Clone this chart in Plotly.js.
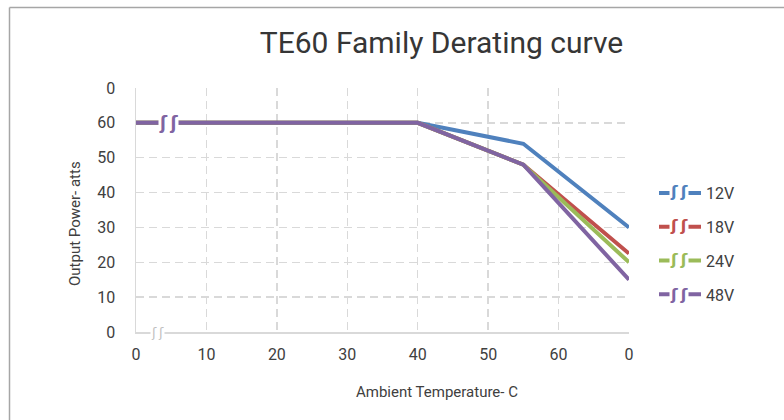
<!DOCTYPE html>
<html><head><meta charset="utf-8">
<script src="https://cdn.plot.ly/plotly-3.0.1.min.js"></script>
<style>html,body{margin:0;padding:0;background:#fff}#chart{width:784px;height:420px}</style>
</head><body><div id="chart"></div>
<script>
// ---- data ----
const temperature = [0, 40, 55, 70];
const seriesNames = ['12V', '18V', '24V', '48V'];
const power12V = [60, 60, 54, 30];
const power18V = [60, 60, 48, 22.5];
const power24V = [60, 60, 48, 20];
const power48V = [60, 60, 48, 15];
const xTickValues = [0, 10, 20, 30, 40, 50, 60, 70];
const xTickLabels = ['0', '10', '20', '30', '40', '50', '60', '0'];
const yTickValues = [0, 10, 20, 30, 40, 50, 60, 70];
const yTickLabels = ['0', '10', '20', '30', '40', '50', '60', '0'];

// ---- styling ----
const colors = ['#4F81BD', '#C0504D', '#9BBB59', '#8064A2'];
const W = 784, H = 420;
const M = {l: 136, r: 155, t: 88, b: 88};
const PW = W - M.l - M.r, PH = H - M.t - M.b;
const px2x = p => (p - M.l) / PW;          // pixel -> paper x
const px2y = p => (H - M.b - p) / PH;      // pixel -> paper y
const txt = '#404040';
const grid = '#d9d9d9';

const series = [power12V, power18V, power24V, power48V];
const traces = series.map((y, i) => ({
  type: 'scatter', mode: 'lines', x: temperature, y: y,
  name: seriesNames[i], legendgroup: 'g' + i,
  line: {color: colors[i], width: 4},
  hoverinfo: 'skip'
}));

const BREAK = 'ʃ\u2009ʃ';
const breakFont = (c, s) => ({family: 'DejaVu Sans', size: s, color: c, weight: 'bold'});
const annotations = [
  {xref: 'paper', yref: 'paper', x: px2x(437), y: px2y(392), text: 'Ambient Temperature- C',
   showarrow: false, font: {size: 15, color: txt}, xanchor: 'center', yanchor: 'middle'},
  {xref: 'paper', yref: 'paper', x: px2x(75), y: px2y(224), text: 'Output Power- atts', textangle: -90,
   showarrow: false, font: {size: 15, color: txt}, xanchor: 'center', yanchor: 'middle'},
  // axis break & line break marks
  {xref: 'x', yref: 'y', x: 3, y: 0, text: BREAK, showarrow: false, bgcolor: '#ffffff', borderpad: 0,
   xanchor: 'center', yanchor: 'middle',
   font: {family: 'DejaVu Sans', size: 13, color: '#bfbfbf'}},
  {xref: 'x', yref: 'y', x: 4.6, y: 60, text: BREAK, showarrow: false, bgcolor: '#ffffff', borderpad: 0,
   xanchor: 'center', yanchor: 'middle', font: breakFont(colors[3], 17)}
];
const legendRows = [191, 225.5, 259.5, 294];
legendRows.forEach((py, i) => annotations.push({
  xref: 'paper', yref: 'paper', x: px2x(679), y: px2y(py), text: BREAK, showarrow: false,
  xanchor: 'center', yanchor: 'middle',
  bgcolor: '#ffffff', borderpad: 0, font: breakFont(colors[i], 16)
}));

const layout = {
  width: W, height: H, margin: M,
  paper_bgcolor: '#ffffff', plot_bgcolor: '#ffffff',
  font: {family: 'Roboto, sans-serif', color: txt, size: 16},
  title: {text: 'TE60 Family Derating curve', font: {size: 30, color: '#363636'},
          xref: 'container', x: 441.5 / W, xanchor: 'center', yref: 'container', y: 1 - 42 / H, yanchor: 'middle'},
  xaxis: {range: [0, 70], tickmode: 'array', tickvals: xTickValues, ticktext: xTickLabels,
          showgrid: true, gridcolor: grid, gridwidth: 1.5, griddash: '8px,5px',
          showline: true, linecolor: grid, linewidth: 1.5, zeroline: false, ticks: '',
          ticklabelstandoff: 7, tickfont: {size: 16, color: txt}, fixedrange: true},
  yaxis: {range: [0, 70], tickmode: 'array', tickvals: yTickValues, ticktext: yTickLabels,
          showgrid: true, gridcolor: grid, gridwidth: 1.5, griddash: '8px,5px',
          showline: true, linecolor: grid, linewidth: 1.5, zeroline: false, ticks: '',
          ticklabelstandoff: 16, tickfont: {size: 16, color: txt}, fixedrange: true},
  showlegend: true,
  legend: {xref: 'container', yref: 'container', x: 654 / W, y: 1 - 176 / H, xanchor: 'left', yanchor: 'top',
           font: {size: 16, color: txt}, itemwidth: 42, tracegroupgap: 10, bgcolor: 'rgba(0,0,0,0)'},
  annotations: annotations,
  shapes: [
    {type: 'line', xref: 'paper', yref: 'paper', x0: px2x(9.5), x1: px2x(784), y0: px2y(7.5), y1: px2y(7.5),
     line: {color: '#a6a6a6', width: 1.5}},
    {type: 'line', xref: 'paper', yref: 'paper', x0: px2x(9.5), x1: px2x(9.5), y0: px2y(7.5), y1: px2y(420),
     line: {color: '#a6a6a6', width: 1.5}}
  ]
};

Plotly.newPlot('chart', traces, layout, {displayModeBar: false, staticPlot: true});
</script>
</body></html>
